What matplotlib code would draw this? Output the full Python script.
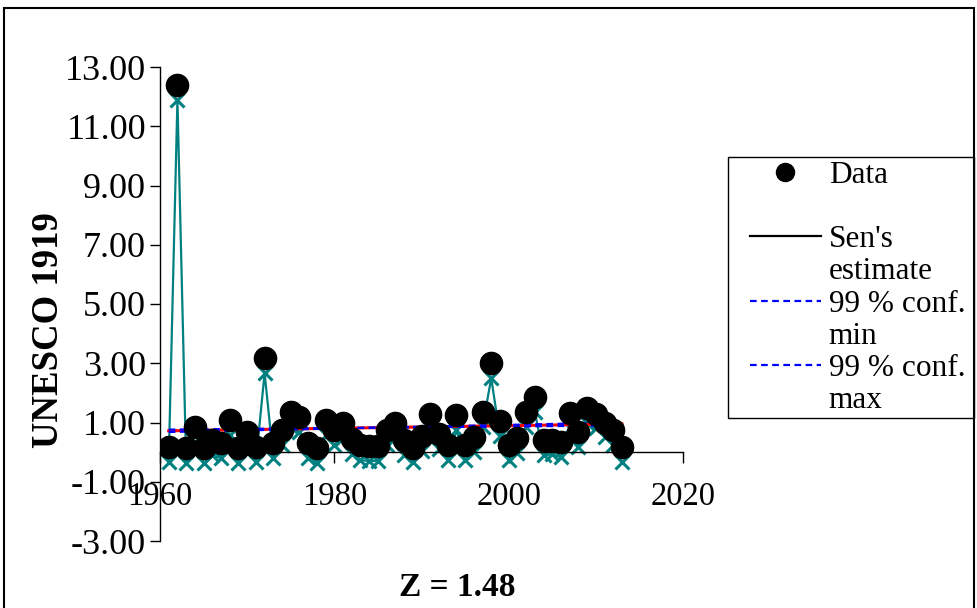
import matplotlib
matplotlib.use("Agg")
import matplotlib.pyplot as plt
from matplotlib.lines import Line2D
from matplotlib.patches import Rectangle
import numpy as np

plt.rcParams['font.family'] = ['Liberation Serif', 'DejaVu Serif']

years = list(range(1961, 2014))
data = [0.17, 12.40, 0.13, 0.84, 0.13, 0.40, 0.30, 1.07, 0.13, 0.67,
        0.17, 3.17, 0.30, 0.74, 1.35, 1.18, 0.30, 0.13, 1.07, 0.74,
        0.97, 0.45, 0.23, 0.20, 0.20, 0.74, 0.97, 0.40, 0.15, 0.55,
        1.30, 0.60, 0.25, 1.24, 0.23, 0.50, 1.35, 3.00, 1.05, 0.23,
        0.46, 1.35, 1.86, 0.40, 0.42, 0.33, 1.33, 0.67, 1.48, 1.30,
        1.00, 0.74, 0.17]
residual_offset = 0.5
residual = [v - residual_offset for v in data]

trend_years = [1961, 2013]
sen_estimate = [0.72, 0.95]
conf99_min = [0.76, 0.90]
conf99_max = [0.68, 1.00]

xticks = [1960, 1980, 2000, 2020]
yticks = [-3, -1, 1, 3, 5, 7, 9, 11, 13]

W, H = 978, 608
fig = plt.figure(figsize=(W / 100, H / 100), dpi=100)
ax = fig.add_axes([160 / W, 1 - 541 / H, (683 - 160) / W, (541 - 67) / H])

ax.plot(years, residual, color='#008080', lw=1.6, marker='x', ms=10, mew=2.2, zorder=2)
ax.plot(trend_years, sen_estimate, color='red', lw=2.2, zorder=3)
ax.plot(trend_years, conf99_min, color='blue', lw=1.6, ls=(0, (3, 2)), zorder=3)
ax.plot(trend_years, conf99_max, color='blue', lw=1.6, ls=(0, (3, 2)), zorder=3)
ax.plot(years, data, ls='none', marker='o', ms=16, color='black', zorder=4)

ax.set_xlim(1960, 2020)
ax.set_ylim(-3, 13)
ax.set_xticks(xticks)
ax.set_xticklabels([str(t) for t in xticks])
ax.set_yticks(yticks)
ax.set_yticklabels([f"{t:.2f}" for t in yticks])
ax.spines['top'].set_visible(False)
ax.spines['right'].set_visible(False)
ax.spines['bottom'].set_position(('data', 0))
ax.spines['left'].set_linewidth(1.0)
ax.spines['bottom'].set_linewidth(1.0)
ax.tick_params(axis='x', direction='out', length=8, width=1, pad=13, labelsize=23.5)
ax.tick_params(axis='y', direction='out', length=7, width=1, pad=3, labelsize=26)
ax.set_ylabel('UNESCO 1919', fontsize=26.5, fontweight='bold')
ax.yaxis.set_label_coords(-0.18, 0.445)

fig.text(457 / W, 1 - 587 / H, 'Z = 1.48', fontsize=24, fontweight='bold',
         ha='center', va='center')

blank = Line2D([], [], ls='none')
handles = [Line2D([], [], ls='none', marker='o', ms=13, color='black'),
           blank,
           Line2D([], [], color='black', lw=1.6),
           blank,
           Line2D([], [], color='blue', lw=1.6, ls=(0, (3, 2))),
           blank,
           Line2D([], [], color='blue', lw=1.6, ls=(0, (3, 2))),
           blank]
labels = ['Data', ' ', "Sen's", 'estimate', '99 % conf.', 'min', '99 % conf.', 'max']
leg = fig.legend(handles, labels, loc='upper left', bbox_to_anchor=(750 / W, 1 - 161 / H),
                 fontsize=22.5, frameon=False, handlelength=2.26, handletextpad=0.26,
                 labelspacing=0.10, borderpad=0, borderaxespad=0)

fig.patches.append(Rectangle((728 / W, 1 - 418 / H), (974 - 728) / W, (418 - 157) / H,
                             transform=fig.transFigure, fill=False,
                             edgecolor='black', lw=1.0))
fig.patches.append(Rectangle((4 / W, -0.02), (974 - 4) / W, 1 - 8 / H + 0.02,
                             transform=fig.transFigure, fill=False,
                             edgecolor='black', lw=1.5))

fig.savefig('out.png', dpi=100)
